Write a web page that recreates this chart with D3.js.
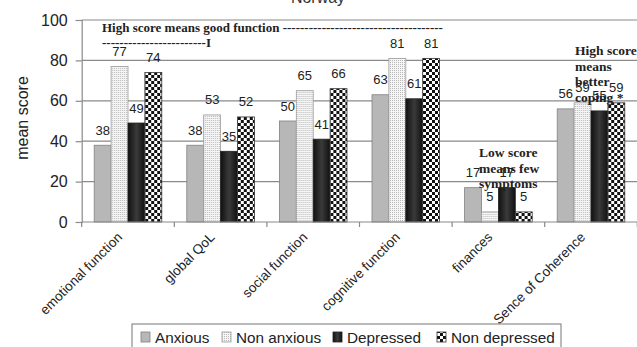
<!DOCTYPE html>
<html>
<head>
<meta charset="utf-8">
<script src="https://cdn.jsdelivr.net/npm/d3@7"></script>
<style>
  body { margin: 0; background: #fff; }
  svg { display: block; font-family: "Liberation Sans", Arial, sans-serif; }
  .note { font-family: "Liberation Serif", "Times New Roman", serif; font-weight: bold; font-size: 13px; fill: #222; }
  .side { font-size: 13.5px; }
</style>
</head>
<body>
<svg width="637" height="347"></svg>
<script>
var categories = ['emotional function', 'global QoL', 'social function', 'cognitive function', 'finances', 'Sence of Coherence'];
var seriesNames = ['Anxious', 'Non anxious', 'Depressed', 'Non depressed'];
var anxious = [38, 38, 50, 63, 17, 56];
var nonAnxious = [77, 53, 65, 81, 5, 59];
var depressed = [49, 35, 41, 61, 17, 55];
var nonDepressed = [74, 52, 66, 81, 5, 59];
var yTicks = [0, 20, 40, 60, 80, 100];

var seriesValues = [anxious, nonAnxious, depressed, nonDepressed];

var svg = d3.select('svg');

// plot box
var plot = {l: 81.7, r: 637.3, t: 20, b: 222};

var defs = svg.append('defs');

// fine dots for "Non anxious"
var dots = defs.append('pattern').attr('id', 'dots')
    .attr('patternUnits', 'userSpaceOnUse').attr('width', 2).attr('height', 2);
dots.append('rect').attr('width', 2).attr('height', 2).attr('fill', '#f6f6f6');
dots.append('rect').attr('width', 1).attr('height', 1).attr('fill', '#b8b8b8');

// checkerboard for "Non depressed"
var checks = defs.append('pattern').attr('id', 'checks')
    .attr('patternUnits', 'userSpaceOnUse').attr('width', 6).attr('height', 6);
checks.append('rect').attr('width', 6).attr('height', 6).attr('fill', '#fff');
checks.append('rect').attr('width', 3).attr('height', 3).attr('fill', '#111');
checks.append('rect').attr('x', 3).attr('y', 3).attr('width', 3).attr('height', 3).attr('fill', '#111');

// dark shaded bar for "Depressed"
var grad = defs.append('linearGradient').attr('id', 'dark')
    .attr('x1', '0%').attr('x2', '100%').attr('y1', '0%').attr('y2', '0%');
grad.append('stop').attr('offset', '0%').attr('stop-color', '#111');
grad.append('stop').attr('offset', '50%').attr('stop-color', '#3a3a3a');
grad.append('stop').attr('offset', '100%').attr('stop-color', '#111');

var fills = ['#b7b7b7', 'url(#dots)', 'url(#dark)', 'url(#checks)'];
var strokes = ['#808080', '#9a9a9a', '#222', '#333'];

var x0 = d3.scaleBand().domain(categories).range([plot.l, plot.r])
    .paddingInner(0.27).paddingOuter(0.135);
var x1 = d3.scaleBand().domain(seriesNames).range([0, x0.bandwidth()]);
var y = d3.scaleLinear().domain([0, 100]).range([plot.b, plot.t]);

// title (cut off at the top)
svg.append('text').attr('x', 318).attr('y', 3)
    .attr('text-anchor', 'middle').attr('font-size', 16).attr('fill', '#333')
    .text('Norway');

// gridlines
svg.append('g').selectAll('line')
    .data(yTicks.filter(function(d) { return d > 0; }))
    .enter().append('line')
    .attr('x1', plot.l).attr('x2', 637)
    .attr('y1', function(d) { return y(d); })
    .attr('y2', function(d) { return y(d); })
    .attr('stroke', '#8a8a8a').attr('stroke-width', 1.2);

// y axis
var yAxis = svg.append('g')
    .attr('transform', 'translate(' + plot.l + ',0)')
    .call(d3.axisLeft(y).tickValues(yTicks).tickSize(6).tickPadding(8));
yAxis.select('.domain').attr('stroke', '#8a8a8a').attr('stroke-width', 1.2);
yAxis.selectAll('.tick line').attr('stroke', '#8a8a8a').attr('stroke-width', 1.2);
yAxis.selectAll('.tick text').attr('font-size', 16).attr('fill', '#222')
    .attr('font-family', '"Liberation Sans", Arial, sans-serif');

svg.append('text')
    .attr('transform', 'translate(28,' + 118 + ') rotate(-90)')
    .attr('text-anchor', 'middle').attr('font-size', 16).attr('fill', '#222')
    .text('mean score');

// bars
var groups = svg.append('g').selectAll('g')
    .data(categories)
    .enter().append('g')
    .attr('transform', function(d) { return 'translate(' + x0(d) + ',0)'; });

function cells(d, i) {
    return seriesNames.map(function(s, j) { return {s: s, j: j, v: seriesValues[j][i]}; });
}

groups.selectAll('rect')
    .data(cells)
    .enter().append('rect')
    .attr('x', function(d) { return x1(d.s); })
    .attr('y', function(d) { return y(d.v); })
    .attr('width', x1.bandwidth())
    .attr('height', function(d) { return y(0) - y(d.v); })
    .attr('fill', function(d) { return fills[d.j]; })
    .attr('stroke', function(d) { return strokes[d.j]; })
    .attr('stroke-width', 0.8);

groups.selectAll('text.val')
    .data(cells)
    .enter().append('text')
    .attr('class', 'val')
    .attr('x', function(d) { return x1(d.s) + x1.bandwidth() / 2; })
    .attr('y', function(d) { return y(d.v) - 10.5; })
    .attr('text-anchor', 'middle').attr('font-size', 13).attr('fill', '#222')
    .text(function(d) { return d.v; });

// x axis
var step = x0.step();
svg.append('line')
    .attr('x1', plot.l).attr('x2', 637).attr('y1', plot.b).attr('y2', plot.b)
    .attr('stroke', '#8a8a8a').attr('stroke-width', 1.2);
svg.append('g').selectAll('line')
    .data(d3.range(categories.length + 1))
    .enter().append('line')
    .attr('x1', function(i) { return plot.l + i * step; })
    .attr('x2', function(i) { return plot.l + i * step; })
    .attr('y1', plot.b).attr('y2', plot.b + 5)
    .attr('stroke', '#8a8a8a').attr('stroke-width', 1.2);

svg.append('g').selectAll('text')
    .data(categories)
    .enter().append('text')
    .attr('transform', function(d) {
        return 'translate(' + (x0(d) + x0.bandwidth() / 2 - 5) + ',' + 238 + ') rotate(-45)';
    })
    .attr('text-anchor', 'end').attr('font-size', 13.5).attr('fill', '#222')
    .text(function(d) { return d; });

// annotations
svg.append('text').attr('class', 'note').attr('x', 102).attr('y', 32)
    .text('High score means good function -------------------------------------');
svg.append('text').attr('class', 'note').attr('x', 102).attr('y', 47)
    .text('------------------------I');

var low = svg.append('text').attr('class', 'note side').attr('x', 479).attr('y', 157);
['Low  score', 'means few', 'symptoms'].forEach(function(t, i) {
    low.append('tspan').attr('x', 479).attr('dy', i ? 15.5 : 0).text(t);
});

var high = svg.append('text').attr('class', 'note side').attr('x', 575).attr('y', 55);
['High score', 'means', 'better', 'coping  *'].forEach(function(t, i) {
    high.append('tspan').attr('x', 575).attr('dy', i ? 15.5 : 0).text(t);
});

// legend
var legend = svg.append('g');
legend.append('rect')
    .attr('x', 132).attr('y', 324).attr('width', 429).attr('height', 30)
    .attr('fill', '#fff').attr('stroke', '#777').attr('stroke-width', 1);
var legendX = [141, 222, 333, 437];
var items = legend.selectAll('g.item')
    .data(seriesNames)
    .enter().append('g')
    .attr('class', 'item')
    .attr('transform', function(d, i) { return 'translate(' + legendX[i] + ',0)'; });
items.append('rect')
    .attr('x', 0).attr('y', 332).attr('width', 9).attr('height', 10)
    .attr('fill', function(d, i) { return fills[i]; })
    .attr('stroke', function(d, i) { return strokes[i]; })
    .attr('stroke-width', 0.8);
items.append('text')
    .attr('x', 14).attr('y', 343)
    .attr('font-size', 15.3).attr('fill', '#222')
    .text(function(d) { return d; });
</script>
</body>
</html>
